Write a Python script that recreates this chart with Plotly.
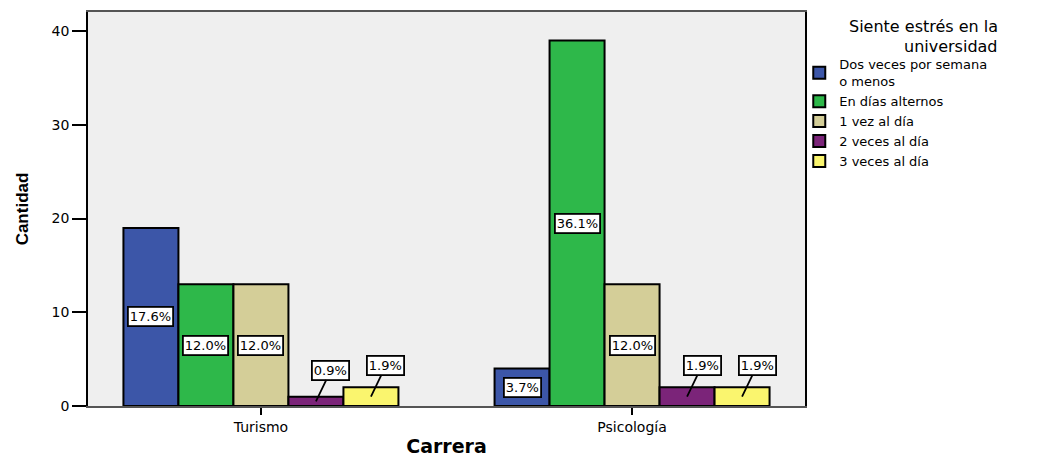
import plotly.graph_objects as go

# Survey counts per career and stress frequency
careers = ["Turismo", "Psicología"]
series_names = [
    "Dos veces por semana<br>o menos",
    "En días alternos",
    "1 vez al día",
    "2 veces al día",
    "3 veces al día",
]
counts = [
    [19, 4],
    [13, 39],
    [13, 13],
    [1, 2],
    [2, 2],
]
pct_labels = [
    ["17.6%", "3.7%"],
    ["12.0%", "36.1%"],
    ["12.0%", "12.0%"],
    ["0.9%", "1.9%"],
    ["1.9%", "1.9%"],
]
colors = ["#3c56a8", "#2eb84a", "#d4ce98", "#7b2479", "#faf56e"]
y_ticks = [0, 10, 20, 30, 40]
legend_title_lines = ["Siente estrés en la", "universidad"]

WIDE = "DejaVu Sans, Verdana, sans-serif"
W, H = 1037, 457
M_L, M_R, M_T, M_B = 88, 232, 12, 51
BARGAP = 0.259
n_series = len(series_names)
bar_w = (1 - BARGAP) / n_series

fig = go.Figure()
for name, vals, col in zip(series_names, counts, colors):
    fig.add_trace(go.Bar(
        x=careers, y=vals, name=name,
        marker=dict(color=col, line=dict(color="black", width=2)),
        hoverinfo="skip",
    ))

# Percentage labels: centred in tall bars, with a leader line for short ones
annotations = []
for i, (vals, labs) in enumerate(zip(counts, pct_labels)):
    for c, (v, lab) in enumerate(zip(vals, labs)):
        xpos = c + (i - (n_series - 1) / 2) * bar_w
        small = v <= 2
        annotations.append(dict(
            x=xpos, y=v / 2, xref="x", yref="y",
            text=lab,
            showarrow=small,
            arrowhead=0, arrowwidth=1.8, arrowcolor="black",
            ax=15 if small else 0, ay=-31 if small else 0,
            font=dict(family=WIDE, size=13, color="black"),
            bgcolor="white", bordercolor="black", borderwidth=1.8, borderpad=1,
        ))

# Legend heading, right-aligned over the legend entries (pixel -> paper)
plot_w = W - M_L - M_R
plot_h = H - M_T - M_B
for k, line in enumerate(legend_title_lines):
    px_x, px_y = 1000, 26 + 20 * k
    annotations.append(dict(
        x=(px_x - M_L) / plot_w, y=(H - M_B - px_y) / plot_h,
        xref="paper", yref="paper",
        text=line, showarrow=False, xanchor="right", yanchor="middle",
        font=dict(family=WIDE, size=16, color="black"),
    ))

fig.update_layout(
    width=W, height=H,
    margin=dict(l=M_L, r=M_R, t=M_T, b=M_B),
    paper_bgcolor="white",
    plot_bgcolor="#efefef",
    barmode="group", bargap=BARGAP, bargroupgap=0,
    font=dict(family=WIDE, color="black"),
    annotations=annotations,
    legend=dict(
        x=0.992, xanchor="left", y=0.905, yanchor="top",
        font=dict(size=13),
        tracegroupgap=0,
        bgcolor="rgba(0,0,0,0)",
    ),
    xaxis=dict(
        range=[-0.466, 1.466],
        automargin=False,
        showline=True, linecolor="#555555", linewidth=1.5, mirror=True,
        ticks="outside", ticklen=7, tickcolor="black", tickwidth=2,
        tickfont=dict(size=14),
        title=dict(text="<b>Carrera</b>", font=dict(size=19), standoff=12),
        showgrid=False, zeroline=False,
    ),
    yaxis=dict(
        range=[0, 42.03],
        automargin=False,
        tickvals=y_ticks,
        showline=True, linecolor="black", linewidth=1.5, mirror=True,
        ticks="outside", ticklen=14, tickcolor="black", tickwidth=1.5,
        tickfont=dict(size=14),
        title=dict(text="<b>Cantidad</b>",
                   font=dict(size=17, family="Liberation Sans, Arial, sans-serif"),
                   standoff=19),
        showgrid=False, zeroline=False,
    ),
)

fig.write_html("out.html")
